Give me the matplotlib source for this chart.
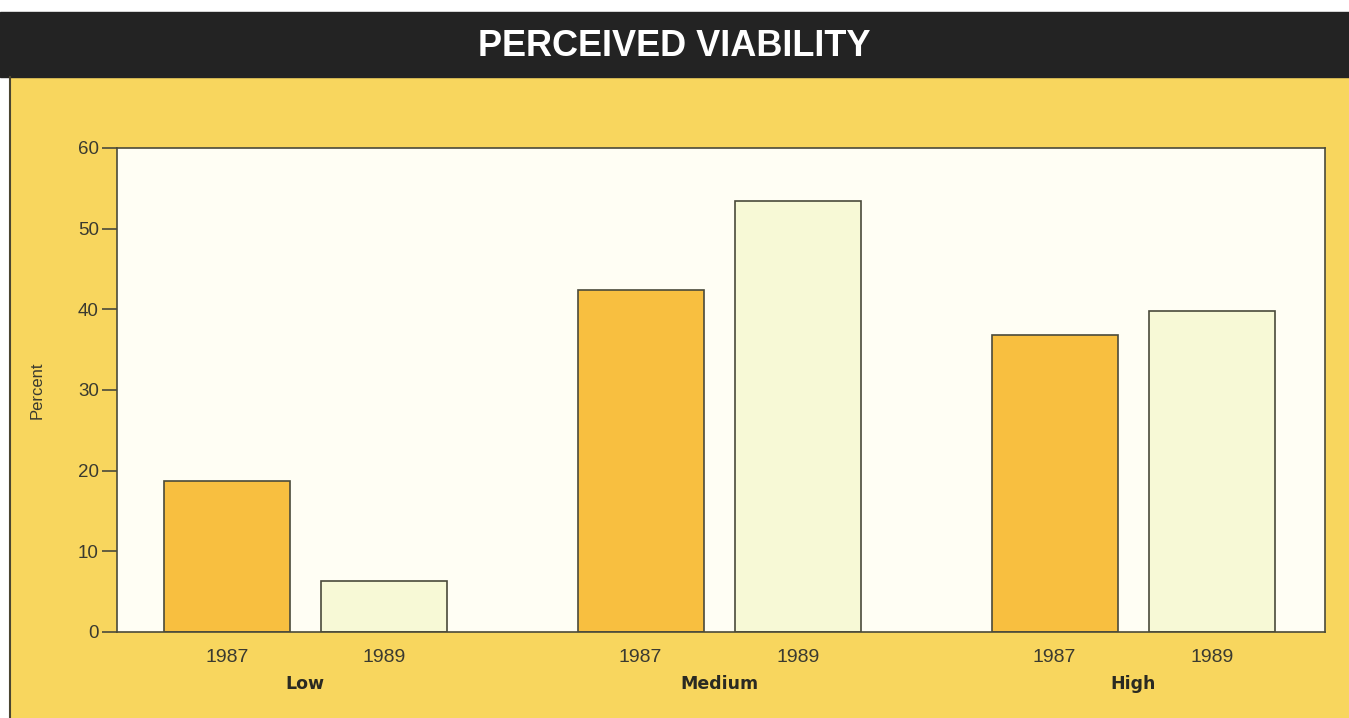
import matplotlib
matplotlib.use("Agg")
import matplotlib.pyplot as plt
import matplotlib.transforms as mtransforms
from matplotlib.patches import Rectangle
import numpy as np

# Data
groups = ["Low", "Medium", "High"]
years = ["1987", "1989"]
pct_1987 = [18.7, 42.4, 36.8]
pct_1989 = [6.3, 53.4, 39.8]
y_ticks = [0, 10, 20, 30, 40, 50, 60]

BG_YELLOW = "#F8D65E"
PLOT_BG = "#FFFEF4"
C_1987 = "#F8BF40"
C_1989 = "#F7F9D6"
EDGE = "#4a4a3a"
TEXT = "#3a3a30"

W, H = 1349, 718
fig = plt.figure(figsize=(W / 100, H / 100), dpi=100, facecolor="white")

# yellow panel + dark title band + left rule (behind the axes)
fig.patches.append(Rectangle((10 / W, 0), 1 - 10 / W, 1 - 76 / H,
                             transform=fig.transFigure, color=BG_YELLOW, zorder=-3))
fig.patches.append(Rectangle((0, 1 - 77 / H), 1, 65 / H,
                             transform=fig.transFigure, color="#232323", zorder=-2))
fig.lines.append(plt.Line2D([10 / W, 10 / W], [0, 1 - 77 / H],
                            transform=fig.transFigure, color="#4a4530", lw=1.5, zorder=-1))
fig.text(0.5, 1 - 47 / H, "PERCEIVED VIABILITY", color="white",
         ha="center", va="center", fontsize=26, fontweight="bold",
         family="Liberation Sans")

ax = fig.add_axes([117 / W, (H - 632) / H, 1208 / W, (632 - 148) / H])
ax.set_facecolor(PLOT_BG)

x = np.arange(len(groups))
bw = 0.304
off = 0.19
ax.bar(x - off, pct_1987, bw, color=C_1987, edgecolor=EDGE, linewidth=1.2)
ax.bar(x + off, pct_1989, bw, color=C_1989, edgecolor=EDGE, linewidth=1.2)

ax.set_xlim(-0.455, 2.463)
ax.set_ylim(0, 60)
ax.set_yticks(y_ticks)
ax.tick_params(axis="y", direction="out", length=11, width=1.2, color=EDGE,
               labelsize=13.5, labelcolor=TEXT, pad=2)
ax.set_xticks([])
for s in ax.spines.values():
    s.set_color(EDGE)
    s.set_linewidth(1.2)
for lab in ax.get_yticklabels():
    lab.set_family("Liberation Sans")

ax.set_ylabel("Percent", fontsize=12, color=TEXT, family="Liberation Sans", labelpad=24)

trans = mtransforms.blended_transform_factory(ax.transData, ax.transAxes)
ax_h = 632 - 148
for i, g in enumerate(groups):
    for j, dx in enumerate([-off, off]):
        ax.text(i + dx, -25 / ax_h, years[j], transform=trans, ha="center", va="center",
                fontsize=14, color=TEXT, family="Liberation Sans")
    ax.text(i, -52 / ax_h, g, transform=trans, ha="center", va="center",
            fontsize=12.5, fontweight="bold", color="#2a2a22", family="DejaVu Sans")

fig.savefig("out.png", dpi=100, facecolor=fig.get_facecolor())
